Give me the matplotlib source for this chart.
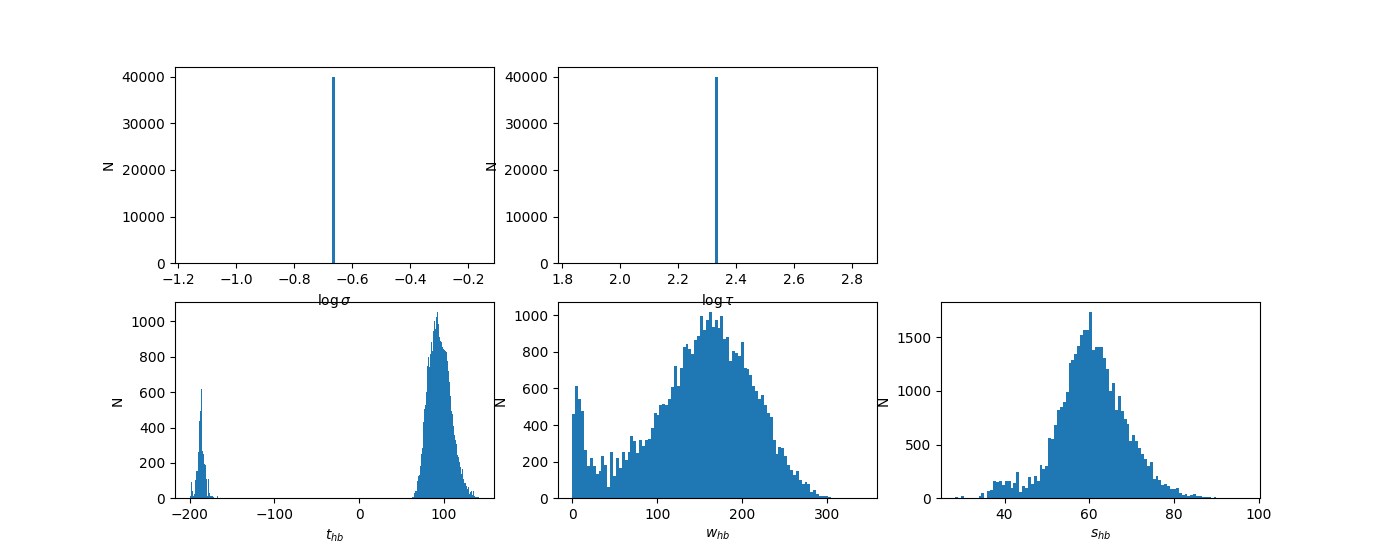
import numpy as np
import matplotlib
matplotlib.use("Agg")
import matplotlib.pyplot as plt

# single-valued parameters (all 40000 samples in one bin)
LOG_SIGMA = -0.66
LOG_TAU = 2.335
N_SAMPLES = 40000

# t_hb: 300 bins between -200.4 and 142.4
T_RANGE = (-200.4, 142.4)
T_BINS = 300
t_left = [40, 11, 94, 40, 15, 24, 105, 152, 152, 260, 439, 495, 615, 269, 250,
          194, 188, 109, 15, 109, 28, 15, 15, 15, 6, 0, 0, 0, 11]
t_right = [6, 9, 28, 40, 40, 100, 124, 130, 185, 250, 282, 429, 561, 505, 527,
           599, 749, 797, 740, 815, 881, 834, 947, 1000, 957, 1022, 1054, 985,
           913, 891, 881, 857, 844, 838, 834, 825, 778, 721, 655, 580, 495, 476,
           410, 405, 360, 330, 307, 247, 235, 207, 175, 137, 166, 109, 85, 85,
           72, 53, 62, 24, 34, 40, 19, 40, 15, 9, 6, 6, 6]
t_gap = 230 - len(t_left)
t_counts = t_left + [0] * t_gap + t_right + [0] * (T_BINS - 230 - len(t_right))

# w_hb: 100 bins between 0 and 341.6
W_RANGE = (0.0, 341.6)
w_counts = [459, 613, 545, 476, 262, 176, 218, 176, 132, 152, 229, 185, 60, 256,
            121, 218, 165, 251, 207, 251, 339, 311, 247, 317, 285, 317, 322, 384,
            465, 454, 509, 514, 509, 542, 606, 723, 613, 712, 827, 845, 816, 789,
            866, 888, 997, 920, 975, 1019, 935, 975, 931, 997, 869, 880, 752, 807,
            796, 778, 855, 710, 705, 672, 613, 587, 544, 564, 509, 465, 443, 317,
            240, 278, 273, 229, 185, 157, 130, 152, 102, 79, 90, 81, 37, 48, 26,
            15, 15, 15, 7, 0, 4, 4, 0, 0, 0, 0, 0, 0, 0, 4]

# s_hb: 100 bins between 28.4 and 96.9
S_RANGE = (28.4, 96.9)
s_counts = [9, 0, 18, 0, 0, 0, 0, 6, 18, 49, 0, 65, 74, 158, 152, 158, 124, 161,
            161, 99, 148, 244, 59, 114, 96, 198, 136, 207, 161, 309, 272, 300, 562,
            553, 680, 819, 847, 902, 995, 1258, 1292, 1347, 1421, 1523, 1570, 1570,
            1738, 1384, 1406, 1412, 1412, 1307, 1205, 998, 1078, 819, 958, 810, 735,
            689, 535, 587, 535, 470, 411, 365, 303, 337, 179, 207, 170, 124, 133,
            114, 90, 90, 96, 49, 31, 40, 19, 31, 40, 22, 22, 12, 12, 12, 0, 12,
            0, 0, 0, 0, 0, 0, 0, 0, 0, 3]


def spike_counts(n_bins=100):
    # numpy puts a constant sample just left of the middle edge
    counts = np.zeros(n_bins)
    counts[n_bins // 2 - 1] = N_SAMPLES
    return counts


def draw_hist(ax, edges, counts, xlabel):
    edges = np.asarray(edges)
    centers = 0.5 * (edges[:-1] + edges[1:])
    ax.hist(centers, bins=edges, weights=counts)
    ax.set_xlabel(xlabel)
    ax.set_ylabel("N")


fig, axes = plt.subplots(2, 3, figsize=(14, 5.6), dpi=100)

draw_hist(axes[0, 0], np.linspace(LOG_SIGMA - 0.5, LOG_SIGMA + 0.5, 101),
          spike_counts(), r"$\log\sigma$")
draw_hist(axes[0, 1], np.linspace(LOG_TAU - 0.5, LOG_TAU + 0.5, 101),
          spike_counts(), r"$\log\tau$")
axes[0, 2].remove()

# top row labels sit over the lower panels' frames
for ax in axes[0, :2]:
    ax.set_zorder(1)

draw_hist(axes[1, 0], np.linspace(*T_RANGE, T_BINS + 1), t_counts, r"$t_{hb}$")
draw_hist(axes[1, 1], np.linspace(*W_RANGE, len(w_counts) + 1), w_counts, r"$w_{hb}$")
draw_hist(axes[1, 2], np.linspace(*S_RANGE, len(s_counts) + 1), s_counts, r"$s_{hb}$")

fig.savefig("out.png", dpi=100)
